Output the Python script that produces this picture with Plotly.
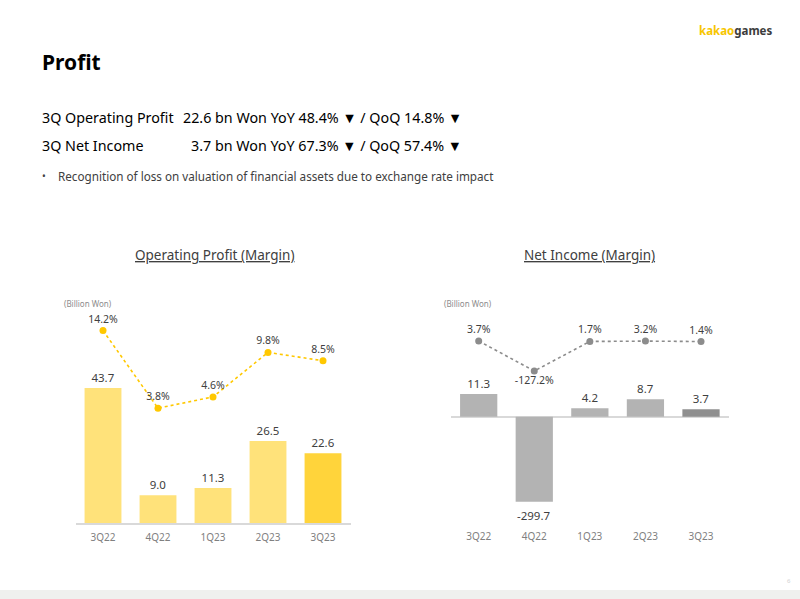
import plotly.graph_objects as go

quarters = ["3Q22", "4Q22", "1Q23", "2Q23", "3Q23"]
op_profit = [43.7, 9.0, 11.3, 26.5, 22.6]
op_margin = [14.2, 3.8, 4.6, 9.8, 8.5]
net_income = [11.3, -299.7, 4.2, 8.7, 3.7]
net_margin = [3.7, -127.2, 1.7, 3.2, 1.4]

W, H = 800, 599
FONT = "Noto Sans"


def px(x):
    return x / W


def py(y):
    return 1 - y / H


fig = go.Figure()

# Left: operating profit bars
fig.add_trace(go.Bar(
    x=quarters, y=op_profit, xaxis="x", yaxis="y",
    marker=dict(color=["#FFE27A"] * 4 + ["#FFD43B"], line=dict(width=0)),
    width=0.67,
    text=[f"{v:.1f}" for v in op_profit], textposition="outside",
    textfont=dict(size=11.5, color="#404040", family=FONT),
    cliponaxis=False, constraintext="none", showlegend=False,
))
fig.add_trace(go.Scatter(
    x=quarters, y=op_margin, xaxis="x", yaxis="y2", mode="lines+markers+text",
    line=dict(color="#FFC800", width=1.6, dash="dot"),
    marker=dict(color="#FFC800", size=7),
    text=[f"{v:.1f}%" for v in op_margin], textposition="top center",
    textfont=dict(size=10.5, color="#404040", family=FONT),
    cliponaxis=False, showlegend=False,
))

# Right: net income bars
fig.add_trace(go.Bar(
    x=quarters, y=net_income, xaxis="x2", yaxis="y3",
    marker=dict(color=["#B3B3B3"] * 4 + ["#8F8F8F"], line=dict(width=0)),
    width=0.67,
    text=[f"{v:.1f}" if v > 0 else "" for v in net_income], textposition="outside",
    textfont=dict(size=11.5, color="#404040", family=FONT),
    cliponaxis=False, constraintext="none", showlegend=False,
))
fig.add_trace(go.Scatter(
    x=quarters, y=net_margin, xaxis="x2", yaxis="y4", mode="lines+markers+text",
    line=dict(color="#8C8C8C", width=1.6, dash="dot"),
    marker=dict(color="#8C8C8C", size=7),
    text=[f"{v:.1f}%" for v in net_margin],
    textposition=["top center" if v >= 0 else "bottom center" for v in net_margin],
    textfont=dict(size=10.5, color="#404040", family=FONT),
    cliponaxis=False, showlegend=False,
))

NI_MIN, NI_MAX = -42.5, 63.35

annotations = []
for q, v in zip(quarters, net_income):
    if v < 0:
        annotations.append(dict(
            x=q, y=NI_MIN, xref="x2", yref="y3", text=f"{v:.1f}", showarrow=False,
            yanchor="top", yshift=-4, font=dict(size=11.5, color="#404040", family=FONT)))

def txt(x, y, text, size, color="#000000", xanchor="left", family=FONT):
    annotations.append(dict(x=px(x), y=py(y), xref="paper", yref="paper", text=text,
                            showarrow=False, xanchor=xanchor, yanchor="middle",
                            font=dict(size=size, color=color, family=family)))

txt(774, 30, "<b><span style='color:#F7C600'>kakao</span><span style='color:#3C3C3C'>games</span></b>", 11.5, xanchor="right")
txt(40, 62, "<b>Profit</b>", 21)
txt(40, 117, "3Q Operating Profit", 14.3)
txt(464, 117, "22.6 bn Won YoY 48.4% ▼ / QoQ 14.8% ▼", 14.3, xanchor="right")
txt(40, 145, "3Q Net Income", 14.3)
txt(464, 145, "3.7 bn Won YoY 67.3% ▼ / QoQ 57.4% ▼", 14.3, xanchor="right")
txt(40, 176, "•", 10, color="#404040")
txt(56, 176, "Recognition of loss on valuation of financial assets due to exchange rate impact", 11.7, color="#404040")
txt(215, 255, "<u>Operating Profit (Margin)</u>", 13.5, color="#404040", xanchor="center")
txt(589, 255, "<u>Net Income (Margin)</u>", 13.5, color="#404040", xanchor="center")
txt(88, 303, "(Billion Won)", 8, color="#8C8C8C", xanchor="center")
txt(468, 303, "(Billion Won)", 8, color="#8C8C8C", xanchor="center")
txt(789, 581, "6", 6, color="#D0D0D0", xanchor="center")

shapes = [dict(type="rect", xref="paper", yref="paper", x0=0, x1=1, y0=0, y1=py(590),
               fillcolor="#EFF0EE", line=dict(width=0), layer="below")]

fig.update_layout(
    width=W, height=H, margin=dict(l=0, r=0, t=0, b=0),
    paper_bgcolor="white", plot_bgcolor="white",
    font=dict(family=FONT),
    bargap=0.33,
    xaxis=dict(domain=[px(75.5), px(350.5)], anchor="y", type="category",
               showline=True, linecolor="#D9D9D9", linewidth=1.5, ticks="",
               showgrid=False, zeroline=False, ticklabelstandoff=4,
               tickfont=dict(size=10, color="#808080", family=FONT), fixedrange=True),
    yaxis=dict(domain=[py(523), py(290)], range=[0, 75.4], visible=False),
    yaxis2=dict(overlaying="y", anchor="x", type="log", range=[-0.267, 1.4513], visible=False),
    xaxis2=dict(domain=[px(450.9), px(728.8)], anchor="y3", type="category",
                showline=False, ticks="", showgrid=False, zeroline=False,
                ticklabelstandoff=27,
                tickfont=dict(size=10, color="#808080", family=FONT)),
    yaxis3=dict(domain=[py(501.7), py(290)], range=[NI_MIN, NI_MAX], showgrid=False,
                showticklabels=False, showline=False, zeroline=True,
                zerolinecolor="#D9D9D9", zerolinewidth=1.5, ticks=""),
    yaxis4=dict(overlaying="y3", anchor="x2", range=[-697.4, 226.2], visible=False),
    annotations=annotations, shapes=shapes,
)

fig.write_html("out.html")
